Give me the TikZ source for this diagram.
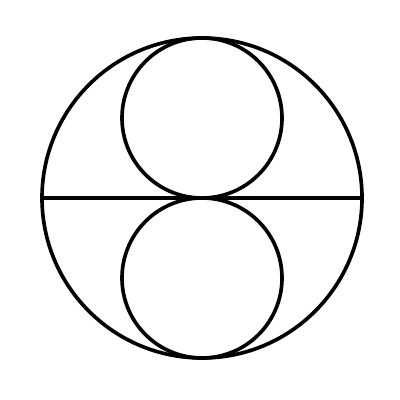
\documentclass[tikz,border=0pt]{standalone}
\usepackage{tikz}
\usetikzlibrary{calc}
\begin{document}
\begin{tikzpicture}[%
  circleStyle/.style={line width=2.6pt},%
  lineStyle/.style={line width=2.3pt}%
]
%
%
\pgfmathsetmacro{\radius}{4}   % Radius of the outer circle.
\pgfmathsetmacro{\half}{\radius/2}
\pgfmathsetmacro{\xlow}{5.05}
\pgfmathsetmacro{\ylow}{5.05}
\useasboundingbox (0,0) rectangle (10,10);
\coordinate (origin) at (\xlow,\ylow);
\coordinate (west) at ($(origin)+(-\radius,0)$);
\coordinate (east) at ($(origin)+(\radius,0)$);
%
%
% The outer circle and its diameter.
\draw[circleStyle] (origin) circle (\radius);
\draw[lineStyle] (west) -- (east);
% The two inner circles.
\draw[circleStyle] ($(origin)+(0,\half)$) circle (\half);
\draw[circleStyle] ($(origin)+(0,-\half)$) circle (\half);
\end{tikzpicture}
\end{document}
